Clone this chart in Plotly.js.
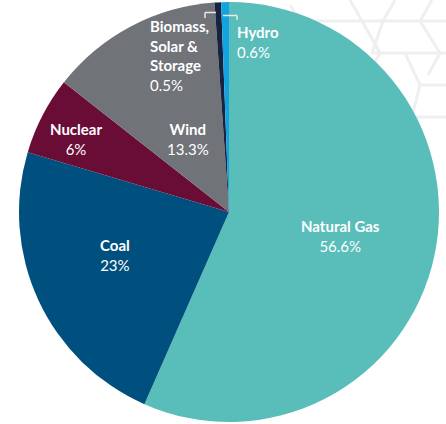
<!DOCTYPE html>
<html>
<head>
<meta charset="utf-8">
<script src="https://cdn.plot.ly/plotly-3.0.1.min.js"></script>
<style>html,body{margin:0;padding:0;background:#fff;}#chart{width:446px;height:424px;}</style>
</head>
<body>
<div id="chart"></div>
<script>
const labels = ["Natural Gas", "Coal", "Nuclear", "Wind", "Biomass, Solar & Storage", "Hydro"];
const labelLines = ["Natural Gas", "Coal", "Nuclear", "Wind", "Biomass,<br>Solar &<br>Storage", "Hydro"];
const values = [56.6, 23, 6, 13.3, 0.5, 0.6];
const colors = ["#59bdb9", "#00507f", "#6a0d36", "#707378", "#18233f", "#12a3e0"];

// label placement (pixel coords of the 446x424 canvas)
const labelPos = [[340, 236, 'center'], [115, 255, 'center'], [76, 139, 'center'], [188, 139, 'center'], [148, 56, 'left'], [235, 42, 'left']];

const W = 446, H = 424;
const annotations = labels.map((l, i) => {
  const p = labelPos[i];
  return {
    text: '<b>' + labelLines[i] + '</b><br>' + values[i] + '%',
    x: p[0] / W, y: 1 - p[1] / H, xref: 'paper', yref: 'paper',
    xanchor: p[2], yanchor: 'middle', align: p[2],
    showarrow: false,
    font: {family: 'Lato, sans-serif', size: 15, color: '#ffffff'}
  };
});

// faint decorative hexagon pattern (top right)
const hexLines = [
  [300,21,446,21],[372,53,446,53],[412,117,446,117],
  [350,0,362,21],[362,21,380,53],[380,53,368,75],
  [395,0,383,21],[383,21,372,53],[420,21,432,0],
  [420,21,440,53],[440,53,428,75],[405,53,420,85],
  [420,85,412,117],[432,85,446,85],[420,85,432,85],[300,21,290,5]
];
const shapes = hexLines.map(s => ({
  type: 'line', xref: 'paper', yref: 'paper', layer: 'below',
  x0: s[0] / W, y0: 1 - s[1] / H, x1: s[2] / W, y1: 1 - s[3] / H,
  line: {color: '#efefef', width: 3}
}));
const leader = [[205,18,205,12.5],[205,12.5,216,12.5],[223,15.5,237,15.5],[237,15.5,237,20]];
leader.forEach(s => shapes.push({
  type: 'line', xref: 'paper', yref: 'paper',
  x0: s[0] / W, y0: 1 - s[1] / H, x1: s[2] / W, y1: 1 - s[3] / H,
  line: {color: '#e8e8e8', width: 1.5}
}));

const trace = {
  type: 'pie',
  labels: labels,
  values: values,
  sort: false,
  direction: 'clockwise',
  rotation: 0,
  marker: {colors: colors, line: {width: 0}},
  textinfo: 'none',
  hoverinfo: 'label+percent',
  showlegend: false,
  domain: {x: [19 / W, 439 / W], y: [2 / H, 422 / H]}
};

Plotly.newPlot('chart', [trace], {
  width: W, height: H,
  margin: {l: 0, r: 0, t: 0, b: 0},
  paper_bgcolor: '#ffffff',
  showlegend: false,
  annotations: annotations,
  shapes: shapes
}, {displayModeBar: false, staticPlot: true});
</script>
</body>
</html>
